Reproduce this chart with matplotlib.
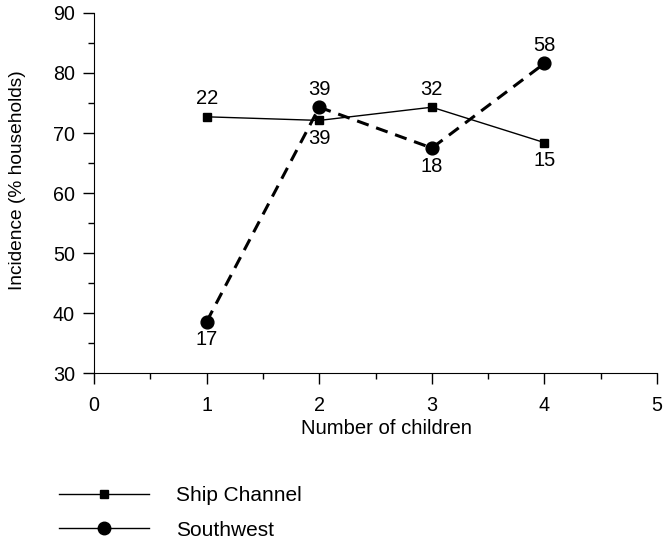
import matplotlib
matplotlib.use("Agg")
import matplotlib.pyplot as plt
from matplotlib.lines import Line2D
from matplotlib.ticker import MultipleLocator

plt.rcParams['font.family'] = ['Liberation Sans', 'DejaVu Sans']

children = [1, 2, 3, 4]
ship_channel = [72.7, 72.1, 74.3, 68.4]
southwest = [38.6, 74.3, 67.5, 81.6]
ship_channel_n = ["22", "39", "32", "15"]
southwest_n = ["17", "39", "18", "58"]
ship_channel_label_pos = ["above", "below", "above", "below"]
southwest_label_pos = ["below", "above", "below", "above"]

fig = plt.figure(figsize=(6.63, 5.40), dpi=100)
ax = fig.add_axes([0.142, 0.309, 0.849, 0.667])

ax.plot(children, ship_channel, color='black', lw=1.0, marker='s', ms=6.0, zorder=3)
ax.plot(children, southwest, color='black', lw=2.2, ls=(0, (4.0, 2.6)), marker='o', ms=9.2, zorder=3)

for xs, ys, labels, pos in [(children, ship_channel, ship_channel_n, ship_channel_label_pos),
                            (children, southwest, southwest_n, southwest_label_pos)]:
    for x, y, t, p in zip(xs, ys, labels, pos):
        dy = 13 if p == "above" else -13
        ax.annotate(t, (x, y), xytext=(0, dy), textcoords='offset points',
                    ha='center', va='center', fontsize=14.5)

ax.set_xlim(0, 5)
ax.set_ylim(30, 90)
ax.xaxis.set_major_locator(MultipleLocator(1))
ax.xaxis.set_minor_locator(MultipleLocator(0.5))
ax.yaxis.set_major_locator(MultipleLocator(10))
ax.yaxis.set_minor_locator(MultipleLocator(5))
for s in ['top', 'right']:
    ax.spines[s].set_visible(False)
ax.tick_params(which='major', direction='out', length=8, width=1.0, labelsize=14.2)
ax.tick_params(axis='x', which='major', pad=8.6)
ax.tick_params(axis='y', which='major', pad=5.8)
ax.tick_params(which='minor', direction='out', length=4, width=1.0)

ax.set_xlabel("Number of children", fontsize=14.6)
ax.set_ylabel("Incidence (% households)", fontsize=13.8)
ax.xaxis.set_label_coords(0.52, -0.128)
ax.yaxis.set_label_coords(-0.137, 0.536)
ax.yaxis.label.set_va('center')

handles = [Line2D([], [], color='black', lw=1.0, marker='s', ms=5.5),
           Line2D([], [], color='black', lw=1.0, marker='o', ms=9.0)]
fig.legend(handles, ["Ship Channel", "Southwest"], loc='upper left',
           bbox_to_anchor=(59 / 663, 1 - 486 / 540), frameon=False, fontsize=15,
           handlelength=4.3, handletextpad=1.3, borderpad=0, borderaxespad=0,
           labelspacing=0.75)

fig.savefig("out.png", dpi=100)
